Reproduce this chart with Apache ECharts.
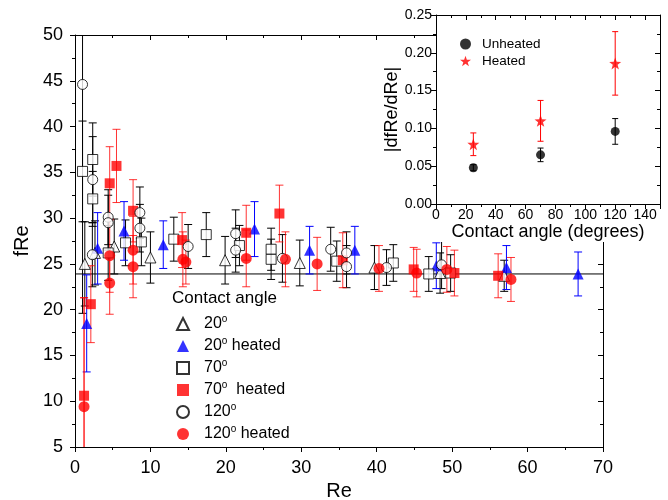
<!DOCTYPE html>
<html>
<head>
<meta charset="utf-8">
<script src="https://cdn.jsdelivr.net/npm/echarts@6/dist/echarts.min.js"></script>
<style>
  html, body { margin: 0; padding: 0; background: #fff; }
  #chart { width: 668px; height: 500px; }
</style>
</head>
<body>
<div id="chart"></div>
<script>
// main plot: [Re, fRe, error]
const angle20 = [[1.3, 25.0, 4.6], [2.65, 26.2, 3.5], [5.2, 26.9, 3.0], [10.0, 25.7, 2.8], [19.9, 25.4, 2.6],
  [29.8, 25.1, 2.5], [39.7, 24.6, 2.4], [48.4, 24.0, 2.2], [56.9, 23.7, 1.7]];
const angle20Heated = [[1.55, 18.5, 5.3], [3.0, 26.7, 3.9], [6.5, 28.6, 3.2], [11.7, 27.1, 2.6], [23.8, 28.8, 3.0],
  [31.1, 26.5, 2.6], [37.1, 26.5, 2.6], [47.9, 24.8, 2.5], [57.2, 24.6, 2.4], [66.7, 23.9, 2.4]];
const angle70 = [[1.0, 35.1, 5.5], [2.35, 36.4, 4.0], [2.35, 32.1, 3.0], [4.4, 26.2, 3.0], [6.7, 27.3, 2.5],
  [8.8, 27.4, 2.6], [13.1, 27.7, 2.4], [17.4, 28.2, 2.4], [21.8, 27.0, 2.2], [26.0, 26.6, 2.3], [26.0, 25.5, 2.2],
  [34.7, 25.3, 2.2], [42.2, 25.1, 2.0], [46.9, 23.9, 1.9], [49.8, 24.0, 2.0]];
const angle70Heated = [[1.2, 10.6, 10.7], [2.1, 20.6, 4.2], [4.6, 33.8, 4.0], [5.5, 35.7, 4.0], [7.7, 30.8, 3.4],
  [14.2, 27.6, 3.0], [22.7, 28.4, 3.0], [27.1, 30.5, 3.1], [35.5, 25.4, 3.0], [44.9, 24.4, 2.4], [50.3, 24.0, 2.5],
  [56.1, 23.7, 2.4]];
const angle120 = [[1.0, 44.6, 25.0], [2.35, 34.2, 4.7], [2.3, 26.0, 3.5], [4.4, 30.1, 3.0], [4.4, 29.5, 3.0],
  [8.6, 30.6, 2.8], [8.6, 28.9, 2.6], [15.0, 26.9, 2.4], [21.3, 28.3, 2.6], [21.3, 26.5, 2.4], [27.5, 25.6, 2.6],
  [33.9, 26.6, 2.4], [36.0, 26.2, 2.3], [36.0, 24.7, 2.3], [41.3, 24.6, 1.95], [48.6, 24.9, 2.6]];
const angle120Heated = [[1.2, 9.4, 11.9], [4.6, 25.9, 4.0], [4.6, 22.9, 3.4], [7.7, 26.5, 3.7], [7.7, 24.7, 3.4],
  [14.3, 25.5, 3.0], [14.7, 25.2, 2.4], [22.7, 25.6, 3.1], [27.9, 25.5, 3.0], [32.1, 25.0, 2.9], [40.3, 24.5, 2.5],
  [45.3, 24.0, 2.6], [49.3, 24.4, 2.5], [57.8, 23.3, 2.4]];
const theoryLine = [[0, 23.9], [70, 23.9]];

// inset: contact angle vs |dfRe/dRe|
const insetAngles = [25, 70, 120];
const unheatedSlope = [0.048, 0.065, 0.096];
const unheatedErr = [0.004, 0.009, 0.017];
const heatedSlope = [0.079, 0.110, 0.186];
const heatedErr = [0.015, 0.027, 0.042];

const FONT = 'Liberation Sans, Arial, sans-serif';
const BLUE = '#0000ff';
const RED = '#ff0000';
const STAR = 'path://M0,-10L2.35,-3.24L9.51,-3.09L3.8,1.24L5.88,8.09L0,4L-5.88,8.09L-3.8,1.24L-9.51,-3.09L-2.35,-3.24Z';

const legendText = {
  a20: '{g| }20{s|o}',
  h20: '{g| }20{s|o} heated',
  a70: '{g| }70{s|o}',
  h70: '{g| }70{s|o}  heated',
  a120: '{g| }120{s|o}',
  h120: '{g| }120{s|o} heated'
};

function errorBars(axis, rows, color, cap, z) {
  return {
    type: 'custom',
    xAxisIndex: axis,
    yAxisIndex: axis,
    silent: true,
    z: z,
    data: rows,
    renderItem: function (params, api) {
      const x = api.value(0), y = api.value(1), e = api.value(2);
      const hi = api.coord([x, y + e]);
      const lo = api.coord([x, y - e]);
      const top = params.coordSys.y;
      const bot = params.coordSys.y + params.coordSys.height;
      const kids = [{
        type: 'line',
        shape: { x1: hi[0], y1: Math.max(hi[1], top), x2: hi[0], y2: Math.min(lo[1], bot) },
        style: { stroke: color, lineWidth: 1 }
      }];
      if (hi[1] >= top) {
        kids.push({ type: 'line', shape: { x1: hi[0] - cap, y1: hi[1], x2: hi[0] + cap, y2: hi[1] },
          style: { stroke: color, lineWidth: 1 } });
      }
      if (lo[1] <= bot) {
        kids.push({ type: 'line', shape: { x1: lo[0] - cap, y1: lo[1], x2: lo[0] + cap, y2: lo[1] },
          style: { stroke: color, lineWidth: 1 } });
      }
      return { type: 'group', children: kids };
    }
  };
}

function points(name, rows, symbol, size, style) {
  return {
    name: name,
    type: 'scatter',
    xAxisIndex: 0,
    yAxisIndex: 0,
    z: 3,
    symbol: symbol,
    symbolSize: size,
    data: rows.map(r => [r[0], r[1]]),
    itemStyle: style
  };
}

function frameAxis(extra) {
  return Object.assign({
    type: 'value',
    axisLine: { show: true, onZero: false, lineStyle: { color: '#000', width: 1 } },
    axisTick: { show: true, inside: true, length: 5, lineStyle: { color: '#000' } },
    minorTick: { show: true, splitNumber: 2, length: 3, lineStyle: { color: '#000' } },
    axisLabel: { show: false },
    splitLine: { show: false }
  }, extra);
}

function labelAxis(extra, fontSize, margin) {
  return Object.assign({
    type: 'value',
    axisLine: { show: true, onZero: false, lineStyle: { color: '#000', width: 1 } },
    axisTick: { show: true, inside: false, length: 5, lineStyle: { color: '#000' } },
    minorTick: { show: true, splitNumber: 2, length: 3, lineStyle: { color: '#000' } },
    axisLabel: { color: '#000', fontSize: fontSize, fontFamily: FONT, margin: margin },
    splitLine: { show: false },
    nameLocation: 'middle',
    nameTextStyle: { color: '#000', fontSize: 20, fontFamily: FONT }
  }, extra);
}

const chart = echarts.init(document.getElementById('chart'), null, { renderer: 'canvas' });

const insetRows = (vals, errs) => insetAngles.map((a, i) => [a, vals[i], errs[i]]);

const option = {
  backgroundColor: '#fff',
  animation: false,
  grid: [
    { left: 75, right: 65, top: 35, bottom: 53, outerBoundsMode: 'none' },
    { left: 436, right: 8, top: 15, bottom: 296, outerBoundsMode: 'none' }
  ],
  xAxis: [
    labelAxis({ gridIndex: 0, min: 0, max: 70, interval: 10, position: 'bottom', name: 'Re', nameGap: 32 }, 18, 12),
    frameAxis({ gridIndex: 0, min: 0, max: 70, interval: 10, position: 'top' }),
    labelAxis({ gridIndex: 1, min: 0, max: 150, interval: 20, position: 'bottom', name: 'Contact angle (degrees)',
      nameGap: 19, z: 60,
      axisLabel: { color: '#000', fontSize: 14, fontFamily: FONT, margin: 4, formatter: v => (v > 140 ? '' : v) },
      nameTextStyle: { color: '#000', fontSize: 18, fontFamily: FONT } }, 14, 4),
    frameAxis({ gridIndex: 1, min: 0, max: 150, interval: 20, position: 'top', z: 60 })
  ],
  yAxis: [
    labelAxis({ gridIndex: 0, min: 5, max: 50, interval: 5, position: 'left', name: 'fRe', nameGap: 42 }, 18, 12),
    frameAxis({ gridIndex: 0, min: 5, max: 50, interval: 5, position: 'right' }),
    labelAxis({ gridIndex: 1, min: 0, max: 0.25, interval: 0.05, position: 'left', name: '|dfRe/dRe|', nameGap: 30,
      z: 60,
      axisLabel: { color: '#000', fontSize: 14, fontFamily: FONT, margin: 4, formatter: v => v.toFixed(2) },
      nameTextStyle: { color: '#000', fontSize: 18, fontFamily: FONT } }, 14, 4),
    frameAxis({ gridIndex: 1, min: 0, max: 0.25, interval: 0.05, position: 'right', z: 60 })
  ],
  graphic: [
    { type: 'rect', z: 50, shape: { x: 436, y: 0, width: 232, height: 242 }, style: { fill: '#fff' } },
    { type: 'text', z: 5, left: 172, top: 290,
      style: { text: 'Contact angle', fill: '#000', font: '17px ' + FONT } }
  ],
  legend: [
    {
      data: ['a20', 'h20', 'a70', 'h70', 'a120', 'h120'],
      orient: 'vertical',
      left: 176,
      top: 314,
      padding: 0,
      itemWidth: 12,
      itemHeight: 12,
      itemGap: 2,
      formatter: n => legendText[n],
      textStyle: {
        color: '#000', fontSize: 16, fontFamily: FONT, lineHeight: 20,
        rich: {
          g: { width: 10, lineHeight: 20 },
          s: { fontSize: 10, fontFamily: FONT, color: '#000', lineHeight: 8, verticalAlign: 'top' }
        }
      }
    },
    {
      data: ['Unheated', 'Heated'],
      orient: 'vertical',
      left: 460,
      top: 37,
      padding: 0,
      z: 62,
      itemWidth: 11,
      itemHeight: 11,
      itemGap: 3,
      formatter: n => '{g| }' + n,
      textStyle: { color: '#000', fontSize: 13.5, fontFamily: FONT, rich: { g: { width: 6 } } }
    }
  ],
  series: [
    {
      type: 'line', xAxisIndex: 0, yAxisIndex: 0, z: 1, silent: true, symbol: 'none',
      data: theoryLine, lineStyle: { color: '#000', width: 1 }
    },
    errorBars(0, angle20, '#000', 4, 2),
    errorBars(0, angle70, '#000', 4, 2),
    errorBars(0, angle120, '#000', 4, 2),
    errorBars(0, angle20Heated, BLUE, 4, 2),
    errorBars(0, angle70Heated, 'rgba(255,0,0,0.8)', 4, 2),
    errorBars(0, angle120Heated, 'rgba(255,0,0,0.8)', 4, 2),
    points('a20', angle20, 'triangle', 11, { color: '#fff', borderColor: '#000', borderWidth: 1 }),
    points('h20', angle20Heated, 'triangle', 11, { color: BLUE }),
    points('a70', angle70, 'rect', 10, { color: '#fff', borderColor: '#000', borderWidth: 1 }),
    points('h70', angle70Heated, 'rect', 10, { color: RED }),
    points('a120', angle120, 'circle', 10, { color: '#fff', borderColor: '#000', borderWidth: 1 }),
    points('h120', angle120Heated, 'circle', 11, { color: RED }),
    errorBars(2, insetRows(unheatedSlope, unheatedErr), '#000', 3, 61),
    errorBars(2, insetRows(heatedSlope, heatedErr), RED, 3, 61),
    {
      name: 'Unheated', type: 'scatter', xAxisIndex: 2, yAxisIndex: 2, z: 62,
      symbol: 'circle', symbolSize: 9,
      data: insetAngles.map((a, i) => [a, unheatedSlope[i]]),
      itemStyle: { color: '#000' }
    },
    {
      name: 'Heated', type: 'scatter', xAxisIndex: 2, yAxisIndex: 2, z: 62,
      symbol: STAR, symbolSize: 12,
      data: insetAngles.map((a, i) => [a, heatedSlope[i]]),
      itemStyle: { color: RED }
    }
  ]
};

chart.setOption(option);
</script>
</body>
</html>
